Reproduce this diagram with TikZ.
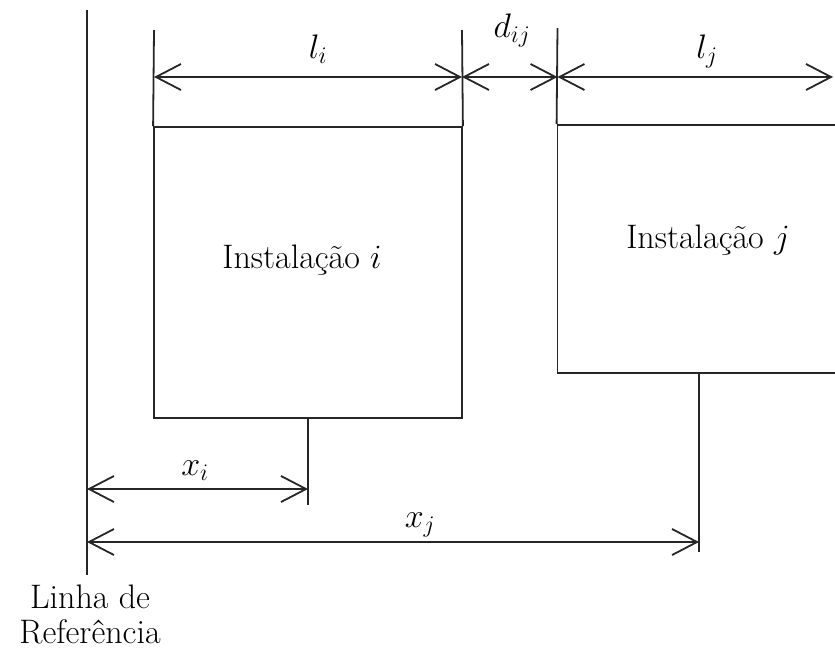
\RequirePackage{fix-cm}
\documentclass[tikz,border=0pt]{standalone}
\usepackage{fontspec}
\usetikzlibrary{arrows.meta}

\tikzset{
  dim/.style={{Straight Barb[length=25pt,width=26pt]}-{Straight Barb[length=25pt,width=26pt]}},
  box/.style={draw, inner sep=0pt},
}

\begin{document}
\begin{tikzpicture}[x=1pt,y=-1pt,line width=1.8pt,draw=black!85,
  font=\fontsize{34}{35}\selectfont,inner sep=2pt]
\useasboundingbox (0,0) rectangle (835,654);
\clip (0,0) rectangle (835,654);
% facilities
\node[box, minimum width=308pt, minimum height=291pt] (inst i) at (308,272.5) {};
\node[box, minimum width=302pt, minimum height=248pt] (inst j) at (708.5,249) {};
\node (txt i) at (302,260) {Instalação $i$};
\node (txt j) at (708,240) {Instalação $j$};
% reference line
\coordinate (ref top) at (87,10);
\coordinate (ref bot) at (87,575);
\draw (ref top) -- (ref bot);
\node[align=center, anchor=north, inner sep=0pt] (ref lbl) at (90,584) {Linha de\\Referência};
% extension lines
\coordinate (ext li) at (154,30);
\coordinate (ext ri) at (462,30);
\coordinate (ext lj) at (557.5,28);
\draw (ext li) -- (inst i.north west);
\draw (ext ri) -- (inst i.north east);
\draw (ext lj) -- (inst j.north west);
\coordinate (stem i) at (308,505);
\coordinate (stem j) at (699,552);
\draw (inst i.south) -- (stem i);
\draw (stem j |- inst j.south) -- (stem j);
% dimensions
\coordinate (li a) at (154,77);
\coordinate (li b) at (462,77);
\coordinate (lj a) at (557.5,77);
\coordinate (lj b) at (833,77);
\coordinate (xi a) at (87,489);
\coordinate (xi b) at (308,489);
\coordinate (xj a) at (87,542);
\coordinate (xj b) at (699,542);
\draw[dim] (li a) -- (li b);
\draw[dim] (li b) -- (lj a);
\draw[dim] (lj a) -- (lj b);
\draw[dim] (xi a) -- (xi b);
\draw[dim] (xj a) -- (xj b);
\node[anchor=base] (lbl li) at (318,58) {$l_i$};
\node[anchor=base] (lbl dij) at (512,37) {$d_{ij}$};
\node[anchor=base] (lbl lj) at (707,58) {$l_j$};
\node[anchor=base] (lbl xi) at (195,475) {$x_i$};
\node[anchor=base] (lbl xj) at (420,527) {$x_j$};
\end{tikzpicture}
\end{document}
